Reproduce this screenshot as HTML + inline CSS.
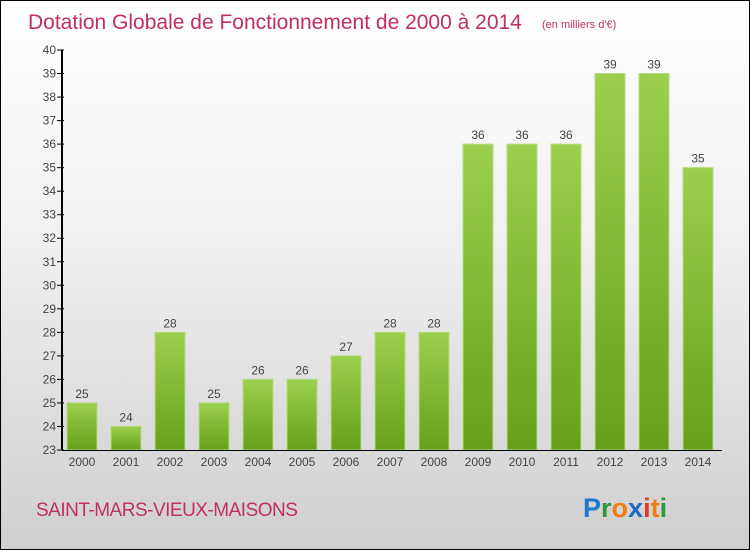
<!DOCTYPE html>
<html><head><meta charset="utf-8"><style>
body{margin:0}
#c{width:748px;height:548px;border:1px solid #000;background:linear-gradient(#ffffff,#f2f2f2 40%,#cfcfcf);position:relative;overflow:hidden;font-family:"Liberation Sans",sans-serif}
</style></head><body>
<div id="c">
<svg id="s" width="748" height="548"></svg>
</div>
<script>
const years=["2000","2001","2002","2003","2004","2005","2006","2007","2008","2009","2010","2011","2012","2013","2014"];
const values=[25,24,28,25,26,26,27,28,28,36,36,36,39,39,35];
const yTicks=[23,24,25,26,27,28,29,30,31,32,33,34,35,36,37,38,39,40];
const NS="http://www.w3.org/2000/svg";
const s=document.getElementById('s');
function el(t,a,txt){const e=document.createElementNS(NS,t);for(const k in a)e.setAttribute(k,a[k]);if(txt!==undefined)e.textContent=txt;s.appendChild(e);return e;}
const y0=23,y1=40,plotTop=49,plotBot=449;
const Y=v=>plotBot-(v-y0)/(y1-y0)*(plotBot-plotTop);
const X=i=>81+i*44;
const defs=el('defs',{});
defs.innerHTML='<linearGradient id="g" x1="0" y1="0" x2="0" y2="1"><stop offset="0" stop-color="#9ccf4e"/><stop offset="1" stop-color="#66a01a"/></linearGradient>';
let t=el('text',{x:27,y:28,fill:'#c0305f','font-size':21});


t.textContent='Dotation Globale de Fonctionnement de 2000 à 2014';
t=el('text',{x:541,y:27,fill:'#c0305f','font-size':11},'(en milliers d\'€)');


yTicks.forEach(v=>{
 const l=el('line',{x1:56,x2:63,y1:Y(v),y2:Y(v),stroke:'#000'});
 
 
 const tx=el('text',{x:55,y:Y(v)+4,'text-anchor':'end','font-size':12,fill:'#444'},v);
 
 
});
values.forEach((v,i)=>{
 const r=el('rect',{x:X(i)-15,y:Y(v),width:30,height:plotBot-Y(v),fill:'url(#g)',stroke:'#b5dc7c','stroke-width':1});
 
 
 const vl=el('text',{x:X(i),y:Y(v)-5,'text-anchor':'middle','font-size':12,fill:'#444'},v);
 
 
 const xl=el('text',{x:X(i),y:plotBot+16,'text-anchor':'middle','font-size':12,fill:'#444'},years[i]);
 
 
});
let a=el('line',{x1:61,x2:61,y1:plotTop,y2:plotBot,stroke:'#000','stroke-width':2});


a=el('line',{x1:61,x2:721,y1:plotBot+0.5,y2:plotBot+0.5,stroke:'#000'});


t=el('text',{x:35,y:515,fill:'#c0305f','font-size':19,'letter-spacing':'-0.5'},'SAINT-MARS-VIEUX-MAISONS');


const g=el('text',{x:582,y:516,'font-size':27,'font-weight':'bold'});


g.innerHTML='<tspan fill="#1a7ad0">P</tspan><tspan fill="#2a9a3a">r</tspan><tspan fill="#f07d10">o</tspan><tspan fill="#1a6ac8">x</tspan><tspan fill="#e03a20">i</tspan><tspan fill="#f07d10">t</tspan><tspan fill="#2a9a3a">i</tspan>';
</script>
</body></html>
